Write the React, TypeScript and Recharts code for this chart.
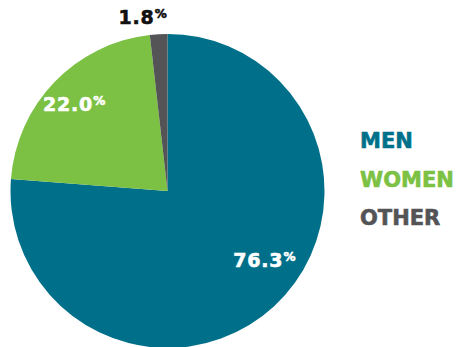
import { PieChart, Pie, Cell, Customized } from 'recharts';

const categories = ['MEN', 'WOMEN', 'OTHER'];
const shares = [76.3, 22.0, 1.8];
const labels = ['76.3', '22.0', '1.8'];

const COLORS: Record<string, string> = {
  MEN: '#00708a',
  WOMEN: '#7cc144',
  OTHER: '#545456',
};

// where each value label sits: angle in degrees (0 = right, ccw), radius as fraction of outer radius
const LABEL_POS: Record<string, { angle: number; r: number; fill: string }> = {
  MEN: { angle: -35.4, r: 0.76, fill: '#ffffff' },
  WOMEN: { angle: 137, r: 0.81, fill: '#ffffff' },
  OTHER: { angle: 98, r: 1.12, fill: '#111111' },
};

const FONT = '"DejaVu Sans", sans-serif';

const data = categories.map((name, i) => ({ name, value: shares[i], label: labels[i] }));

const RAD = Math.PI / 180;

function renderLabel(props: any) {
  const { cx, cy, outerRadius, index } = props;
  const d = data[index];
  const pos = LABEL_POS[d.name];
  const x = cx + outerRadius * pos.r * Math.cos(pos.angle * RAD);
  const y = cy - outerRadius * pos.r * Math.sin(pos.angle * RAD);
  return (
    <text
      x={x}
      y={y}
      textAnchor="middle"
      dominantBaseline="central"
      fill={pos.fill}
      stroke={pos.fill}
      strokeWidth={0.6}
      fontFamily={FONT}
      fontWeight={700}
      fontSize={19}
      letterSpacing={0.8}
    >
      {d.label}
      <tspan fontSize={12} dy={-3}>%</tspan>
    </text>
  );
}

// legend drawn as svg text at the right of the pie
function LegendText() {
  return (
    <g>
      {data.map((d, i) => (
        <text
          key={d.name}
          x={360}
          y={141 + i * 38.5}
          dominantBaseline="central"
          fill={COLORS[d.name]}
          stroke={COLORS[d.name]}
          strokeWidth={0.6}
          fontFamily={FONT}
          fontWeight={700}
          fontSize={21}
        >
          {d.name}
        </text>
      ))}
    </g>
  );
}

export default function App() {
  return (
    <div
      style={{
        position: 'fixed',
        left: 0,
        top: 0,
        width: 456,
        height: 347,
        overflow: 'hidden',
        background: '#fff',
      }}
    >
      <PieChart width={456} height={347} margin={{ top: 0, right: 0, bottom: 0, left: 0 }}>
        <Pie
          data={data}
          dataKey="value"
          cx={167.5}
          cy={191}
          outerRadius={157}
          startAngle={90}
          endAngle={-270}
          stroke="none"
          labelLine={false}
          label={renderLabel}
          isAnimationActive={false}
        >
          {data.map((d) => (
            <Cell key={d.name} fill={COLORS[d.name]} />
          ))}
        </Pie>
        <Customized component={LegendText} />
      </PieChart>
    </div>
  );
}
